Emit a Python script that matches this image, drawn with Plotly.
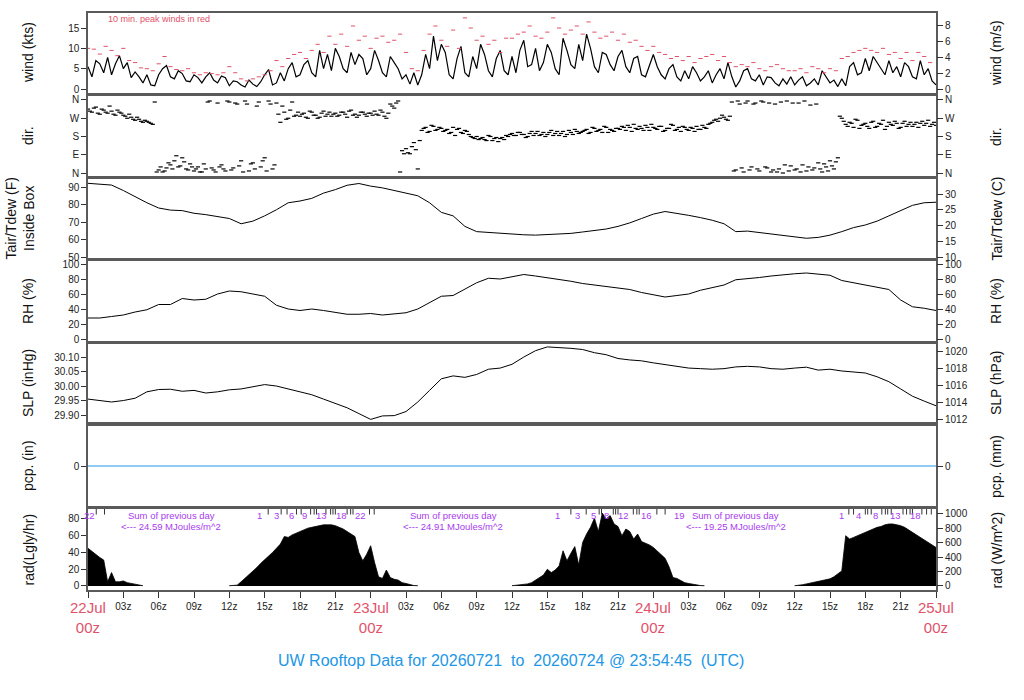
import pandas as pd
import plotly.graph_objects as go

t0 = pd.Timestamp("2026-07-22 00:00")

# 20 minute samples, 22Jul 00z .. 25Jul 00z
wind_kts = [
    5.5, 3.0, 7.0, 6.2, 4.0, 7.8, 3.5, 6.2, 8.2,
    5.0, 6.5, 2.8, 4.2, 3.0, 1.5, 3.5, 1.0, 0.8,
    3.5, 5.0, 5.8, 3.0, 2.5, 4.5, 3.8, 2.0, 1.8,
    3.5, 2.8, 1.5, 3.0, 4.0, 2.2, 1.5, 3.2, 2.8,
    0.8, 2.0, 1.8, 1.0, 0.5, 2.2, 1.2, 0.6, 1.8,
    3.5, 4.8, 1.0, 1.5, 4.0, 2.0, 5.0, 6.5, 3.0,
    3.5, 6.0, 7.0, 4.0, 3.0, 9.5, 5.0, 8.5, 4.5,
    10.0, 8.0, 5.0, 4.0, 9.0, 6.0, 8.5, 7.5, 3.5,
    5.0, 9.5, 7.0, 4.0, 3.0, 8.0, 6.5, 5.0, 2.5,
    3.5, 1.2, 4.0, 1.0, 3.5, 8.5, 5.0, 13.0, 7.0,
    11.0, 9.0, 3.5, 2.5, 7.5, 10.5, 4.0, 3.0, 8.0,
    5.0, 11.0, 8.5, 4.5, 3.0, 7.5, 9.5, 4.5, 3.5,
    8.0, 4.0, 9.5, 12.0, 5.5, 6.0, 10.0, 4.5, 6.5,
    11.0, 9.0, 5.0, 3.5, 12.5, 9.5, 6.0, 5.0, 11.0,
    7.0, 13.5, 10.0, 5.5, 4.0, 9.0, 8.5, 6.0, 4.5,
    8.0, 9.5, 5.5, 4.0, 7.5, 8.0, 3.5, 3.0, 6.0,
    8.5, 5.5, 3.5, 2.5, 5.0, 6.0, 3.0, 2.0, 4.5,
    2.5, 5.5, 4.0, 2.0, 3.0, 4.5, 1.5, 3.5, 5.0,
    2.5, 6.5, 3.0, 0.5, 2.0, 4.5, 5.0, 2.5, 2.0,
    3.5, 1.0, 3.0, 2.8, 1.5, 0.8, 2.5, 1.2, 3.0,
    1.0, 2.2, 3.0, 0.8, 1.5, 2.5, 1.0, 4.5, 3.0,
    1.5, 2.2, 0.6, 2.5, 0.8, 5.5, 6.5, 3.5, 4.0,
    7.5, 4.5, 8.0, 6.5, 5.0, 3.5, 7.0, 4.0, 5.5,
    3.0, 6.5, 5.5, 3.0, 2.5, 7.0, 3.5, 5.0, 2.0,
    1.0,
]

# 10 min peak winds, one every 30 min
wind_peak_kts = [
    10.0, 9.8, 8.6, 10.5, 9.5, 8.2, 10.0, 7.0, 6.5, 5.2, 5.0, 4.5,
    6.2, 8.0, 5.5, 4.8, 4.5, 5.0, 4.0, 3.5, 4.0, 3.8, 3.5, 4.0,
    5.5, 4.0, 2.5, 2.0, 2.5, 3.0, 3.5, 4.5, 7.0, 5.5, 7.5, 8.5,
    9.0, 7.5, 9.5, 11.0, 9.0, 13.0, 11.0, 13.5, 10.5, 15.5, 12.0, 13.0,
    10.0, 12.5, 13.0, 11.5, 12.0, 13.5, 9.0, 5.0, 4.5, 9.5, 13.5, 15.5,
    12.0, 10.5, 14.5, 10.0, 17.5, 15.0, 12.0, 13.0, 11.0, 12.0, 9.0, 12.5,
    12.5, 13.5, 14.0, 15.5, 13.0, 12.5, 14.0, 17.5, 15.0, 13.5, 14.5, 15.5,
    13.5, 16.5, 14.0, 12.5, 13.0, 14.0, 12.0, 13.5, 11.5, 12.0, 10.5, 9.5,
    10.5, 9.0, 8.5, 7.5, 8.0, 7.0, 8.0, 6.5, 7.5, 8.0, 8.5, 7.0,
    8.0, 6.5, 5.5, 6.0, 5.5, 6.5, 5.0, 4.5, 5.5, 6.0, 5.0, 4.5,
    4.5, 5.0, 4.0, 5.5, 5.0, 4.0, 5.0, 4.5, 7.5, 8.0, 9.0, 9.5,
    10.0, 9.5, 9.0, 10.0, 8.5, 9.0, 7.5, 9.0, 7.0, 9.0, 8.0, 6.5,
]

# wind direction (deg), 20 minute samples
wind_dir = [
    315, 300, 325, 290, 310, 295, 305, 285, 300,
    285, 270, 275, 260, 265, 250, 255, 245, 350,
    15, 5, 25, 40, 60, 30, 75, 20, 45,
    10, 30, 5, 20, 355, 15, 345, 40, 10,
    350, 25, 340, 60, 355, 10, 50, 330, 30,
    75, 355, 20, 345, 250, 300, 270, 350, 285,
    280, 295, 270, 300, 285, 275, 305, 290, 280,
    295, 285, 300, 275, 310, 290, 285, 300, 280,
    295, 305, 285, 300, 270, 340, 320, 355, 110,
    120, 95, 150, 20, 210, 225, 205, 230, 215,
    220, 210, 195, 225, 215, 200, 210, 190, 175,
    180, 170, 165, 185, 160, 175, 170, 165, 180,
    195, 185, 200, 190, 180, 205, 195, 185, 200,
    190, 210, 195, 185, 205, 190, 200, 215, 195,
    205, 215, 200, 220, 210, 200, 225, 215, 205,
    220, 230, 210, 225, 240, 215, 220, 235, 210,
    225, 215, 230, 210, 220, 235, 215, 205, 225,
    210, 220, 230, 215, 225, 240, 250, 265, 270,
    275, 260, 350, 15, 340, 5, 355, 30, 345,
    10, 350, 25, 5, 340, 20, 0, 355, 35,
    15, 345, 40, 10, 335, 25, 50, 5, 30,
    60, 20, 75, 270, 240, 250, 225, 260, 235,
    245, 220, 255, 230, 240, 215, 250, 235, 245,
    225, 255, 240, 230, 250, 245, 235, 260, 240,
    235,
]

# second set of direction readings, 10 min after the ones above
wind_dir_b = [
    305, 320, 295, 315, 300, 330, 290, 310, 295,
    280, 290, 265, 275, 255, 260, 250, 240, 5,
    30, 10, 50, 20, 85, 35, 55, 15, 30,
    20, 5, 45, 350, 25, 5, 30, 20, 355,
    15, 345, 35, 5, 340, 45, 20, 350, 60,
    10, 340, 40, 290, 330, 265, 310, 280, 300,
    290, 275, 305, 285, 270, 295, 280, 300, 290,
    280, 300, 290, 305, 285, 275, 300, 290, 295,
    285, 290, 310, 280, 295, 330, 345, 5, 95,
    100, 130, 115, 160, 220, 200, 235, 210, 225,
    205, 215, 200, 185, 220, 195, 205, 180, 170,
    165, 175, 160, 180, 170, 155, 175, 185, 190,
    185, 200, 190, 175, 195, 185, 205, 190, 180,
    200, 185, 205, 195, 180, 210, 190, 205, 200,
    210, 195, 225, 205, 215, 230, 200, 210, 220,
    215, 225, 235, 205, 220, 230, 210, 225, 240,
    220, 230, 205, 220, 240, 210, 225, 230, 215,
    225, 205, 215, 235, 220, 245, 260, 255, 285,
    265, 280, 10, 355, 25, 345, 15, 340, 20,
    355, 30, 345, 15, 5, 350, 40, 10, 345,
    20, 5, 355, 30, 15, 340, 20, 45, 10,
    35, 55, 280, 255, 230, 245, 265, 220, 240,
    230, 250, 225, 245, 260, 230, 240, 255, 220,
    245, 230, 250, 240, 225, 255, 245, 230, 250,
]

# hourly values
temp_f = [
    92.1, 91.8, 91.1, 88.0, 84.5, 81.0, 78.0, 76.8, 76.5, 75.0, 74.2, 73.0,
    72.0, 69.0, 70.5, 73.5, 77.0, 81.0, 82.0, 83.5, 86.5, 88.5, 91.0, 92.0,
    90.5, 89.5, 88.0, 86.5, 85.0, 81.0, 75.5, 73.5, 67.5, 64.5, 64.0, 63.8,
    63.2, 62.7, 62.5, 62.8, 63.0, 63.5, 64.3, 65.0, 66.0, 67.5, 69.5, 72.0,
    74.5, 76.0, 75.0, 73.8, 72.5, 71.0, 69.0, 64.5, 64.8, 64.0, 63.0, 62.0,
    61.3, 60.7, 61.2, 62.5, 64.5, 66.8, 68.3, 70.5, 73.5, 76.5, 79.5, 81.0,
    81.3,
]

rh_pct = [
    28, 28, 30, 32, 36, 39, 46, 46, 54, 52, 53, 60,
    64, 63, 60, 57, 45, 40, 38, 40, 38, 35, 33, 33,
    34, 32, 33, 35, 40, 48, 57, 58, 66, 75, 81, 80,
    83, 86, 84, 82, 79, 77, 74, 72, 71, 69, 66, 62,
    59, 56, 58, 60, 65, 69, 72, 79, 80, 82, 84, 86,
    87, 88, 86, 85, 78, 75, 73, 70, 66, 52, 43, 41,
    38,
]

slp_inhg = [
    29.955, 29.950, 29.945, 29.950, 29.958, 29.980, 29.988, 29.989, 29.982, 29.985, 29.976, 29.980,
    29.987, 29.990, 29.998, 30.005, 30.000, 29.990, 29.982, 29.970, 29.955, 29.940, 29.925, 29.905,
    29.885, 29.897, 29.898, 29.912, 29.945, 29.985, 30.025, 30.035, 30.030, 30.040, 30.058, 30.062,
    30.075, 30.100, 30.122, 30.135, 30.133, 30.130, 30.126, 30.115, 30.108, 30.095, 30.090, 30.087,
    30.080, 30.074, 30.068, 30.062, 30.060, 30.058, 30.060, 30.066, 30.068, 30.066, 30.060, 30.058,
    30.062, 30.065, 30.055, 30.058, 30.052, 30.048, 30.045, 30.032, 30.015, 29.990, 29.965, 29.948,
    29.932,
]

pcp_in = [0.0] * 73

# solar radiation (Lgly/hr), 20 minute samples, None = no data
N = None
rad_lgly = [
    45, 41, 38, 34, 31, 5, 16, 5, 5,
    6, 4, 3, 2, 1, 0.3, N, N, N,
    N, N, N, N, N, N, N, N, N,
    N, N, N, N, N, N, N, N, N,
    0.3, 0.5, 1, 5, 9, 14, 18, 22, 27,
    31, 35, 40, 45, 50, 59, 58, 61, 63,
    65, 67, 69, 70, 71, 72, 73, 73, 73,
    72, 70, 68, 65, 62, 59, 40, 30, 38,
    48, 28, 11, 9, 19, 10, 8, 7, 4,
    3, 1.5, 0.5, 0.3, N, N, N, N, N,
    N, N, N, N, N, N, N, N, N,
    N, N, N, N, N, N, N, N, N,
    0.3, 0.8, 1.5, 2, 2.5, 4, 7, 10, 13,
    20, 16, 19, 24, 42, 30, 39, 47, 25,
    52, 62, 70, 81, 65, 87, 80, 84, 74,
    71, 60, 68, 65, 56, 62, 53, 51, 49,
    46, 42, 38, 33, 23, 10, 9, 6, 4,
    3, 2, 1, 0.5, 0.3, N, N, N, N,
    N, N, N, N, N, N, N, N, N,
    N, N, N, N, N, N, N, N, N,
    0.3, 0.5, 1.5, 2.5, 3.5, 4.5, 5.5, 6.5, 7.5,
    8.5, 11, 15, 18, 60, 56, 58, 60, 62,
    64, 66, 68, 70, 71, 73, 74, 74, 73,
    72, 70, 67, 65, 62, 59, 56, 53, 49,
    46,
]

# cumulative MJ markers along top of radiation panel (hours from 22Jul 00z)
rad_lbl_hours = [0.1, 14.6, 16.0, 17.3, 18.4, 19.8, 21.5, 23.1,
                 39.9, 41.6, 42.9, 44.0, 45.5, 47.4, 50.2,
                 64.0, 65.4, 66.9, 68.6, 70.3]
rad_lbl_text = ["22", "1", "3", "6", "9", "13", "18", "22",
                "1", "3", "5", "8", "12", "16", "19",
                "1", "4", "8", "13", "18"]
rad_tick_hours = [0.7, 1.4,
                  15.3, 16.4, 16.9, 17.7, 18.1, 18.9, 19.2, 19.4, 20.2, 20.6, 20.8, 21.0,
                  22.0, 22.3, 22.5, 23.9, 24.3,
                  41.0, 42.3, 43.4, 43.6, 44.6, 44.8, 45.0, 46.3, 46.6, 46.8, 48.3, 49.0,
                  64.6, 65.0, 66.0, 66.2, 66.5, 67.4, 67.7, 67.9, 68.2,
                  69.2, 69.5, 69.8, 70.0, 70.8, 71.2, 71.6]
sum_hours = [7.05, 31.0, 55.0]
sum_mj = ["24.59", "24.91", "19.25"]

t20 = pd.date_range(t0, periods=len(wind_kts), freq="20min")
t20b = pd.date_range(t0 + pd.Timedelta(minutes=10), periods=len(wind_dir_b), freq="20min")
t30 = pd.date_range(t0, periods=len(wind_peak_kts), freq="30min")
t60 = pd.date_range(t0, periods=len(temp_f), freq="h")
t_end = t0 + pd.Timedelta(hours=72)


def hrs(h):
    return [t0 + pd.Timedelta(hours=v) for v in h]


RED = "#DF536B"
BLUE = "#2297E6"
PURPLE = "#A83BF0"
FONT = "Liberation Sans, Arial, sans-serif"
FRAME = "#5a5a5a"

fig = go.Figure()

fig.add_trace(go.Scatter(x=t20, y=wind_kts, mode="lines",
                         line=dict(color="black", width=1.2), xaxis="x", yaxis="y"))
fig.add_trace(go.Scatter(x=t30, y=wind_peak_kts, mode="markers",
                         marker=dict(symbol="line-ew", size=3, line=dict(color=RED, width=1)),
                         xaxis="x", yaxis="y"))
dir_marker = dict(symbol="line-ew", size=3, line=dict(color="black", width=1.2))
fig.add_trace(go.Scatter(x=t20, y=wind_dir, mode="markers", marker=dir_marker,
                         xaxis="x2", yaxis="y2"))
fig.add_trace(go.Scatter(x=t20b, y=wind_dir_b, mode="markers", marker=dir_marker,
                         xaxis="x2", yaxis="y2"))
fig.add_trace(go.Scatter(x=t60, y=temp_f, mode="lines", line=dict(color="black", width=1),
                         xaxis="x3", yaxis="y3"))
fig.add_trace(go.Scatter(x=t60, y=rh_pct, mode="lines", line=dict(color="black", width=1),
                         xaxis="x4", yaxis="y4"))
fig.add_trace(go.Scatter(x=t60, y=slp_inhg, mode="lines", line=dict(color="black", width=1),
                         xaxis="x5", yaxis="y5"))
fig.add_trace(go.Scatter(x=t60, y=pcp_in, mode="lines", line=dict(color=BLUE, width=1),
                         xaxis="x6", yaxis="y6"))

# radiation: one filled area per daylight stretch (no fill across the night gaps)
seg_x, seg_y = [], []
for tt, v in list(zip(t20, rad_lgly)) + [(None, None)]:
    if v is None:
        if seg_x:
            fig.add_trace(go.Scatter(x=seg_x, y=seg_y, mode="lines", fill="tozeroy",
                                     fillcolor="black", line=dict(color="black", width=0.8),
                                     xaxis="x7", yaxis="y7"))
        seg_x, seg_y = [], []
    else:
        seg_x.append(tt)
        seg_y.append(v)

fig.add_trace(go.Scatter(x=hrs(rad_tick_hours), y=[88.6] * len(rad_tick_hours), mode="markers",
                         marker=dict(symbol="line-ns", size=4, line=dict(color="#333", width=1)),
                         xaxis="x7", yaxis="y7"))

# pixel layout of the seven panels (top, bottom)
panels = [(13, 93), (96, 176), (179, 258), (261, 341), (344, 422), (426, 506), (509, 590)]
TOP, BOT = 13, 590
H = BOT - TOP

left = [
    dict(range=[-0.98, 18.7], tickvals=[0, 5, 10, 15]),
    dict(range=[-14.8, 379.7], tickvals=[0, 90, 180, 270, 360], ticktext=["N", "E", "S", "W", "N"]),
    dict(range=[49.43, 94.57], tickvals=[50, 60, 70, 80, 90]),
    dict(range=[-2.67, 104], tickvals=[0, 20, 40, 60, 80, 100]),
    dict(range=[29.876, 30.145], tickvals=[29.90, 29.95, 30.00, 30.05, 30.10], tickformat=".2f"),
    dict(range=[-1, 1], tickvals=[0]),
    dict(range=[-4.8, 91.9], tickvals=[0, 20, 40, 60, 80]),
]
right = [
    dict(range=[-0.98 * 0.5144, 18.7 * 0.5144], tickvals=[0, 2, 4, 6, 8]),
    dict(range=[-14.8, 379.7], tickvals=[0, 90, 180, 270, 360], ticktext=["N", "E", "S", "W", "N"]),
    dict(range=[(49.43 - 32) * 5 / 9, (94.57 - 32) * 5 / 9], tickvals=[10, 15, 20, 25, 30]),
    dict(range=[-2.67, 104], tickvals=[0, 20, 40, 60, 80, 100]),
    dict(range=[29.876 * 33.8639, 30.145 * 33.8639], tickvals=[1012, 1014, 1016, 1018, 1020]),
    dict(range=[-25.4, 25.4], tickvals=[0]),
    dict(range=[-4.8 * 11.63, 91.9 * 11.63], tickvals=[0, 200, 400, 600, 800, 1000]),
]

tick_times = pd.date_range(t0, t_end, freq="3h")
tick_text = ["" if (i * 3) % 24 == 0 else "%02dz" % ((i * 3) % 24) for i in range(len(tick_times))]

layout = dict(
    width=1024, height=700, showlegend=False,
    margin=dict(l=88, r=88, t=TOP, b=700 - BOT, autoexpand=False),
    paper_bgcolor="white", plot_bgcolor="white",
    font=dict(family=FONT, size=10, color="#222"),
)
tickfont = dict(family=FONT, size=10, color="#222")

for i in range(7):
    n = i + 1
    top, bot = panels[i]
    dom = [(BOT - bot) / H, (BOT - top) / H]
    xa = dict(domain=[0, 1], range=[t0, t_end], anchor="y%d" % n, showgrid=False,
              zeroline=False, showline=True, mirror=True, linecolor=FRAME, linewidth=1.5,
              showticklabels=False, ticks="", automargin=False)
    if n == 7:
        xa.update(showticklabels=True, ticks="outside", ticklen=6, tickcolor="#333",
                  tickvals=tick_times, ticktext=tick_text, tickfont=tickfont, tickangle=0)
    layout["xaxis" if n == 1 else "xaxis%d" % n] = xa
    ya = dict(domain=dom, anchor="x%d" % n, side="left", showgrid=False, zeroline=False,
              showline=True, mirror=True, linecolor=FRAME, linewidth=1.5, automargin=False,
              ticks="outside", ticklen=5, tickcolor="#333", tickfont=tickfont)
    ya.update(left[i])
    layout["yaxis" if n == 1 else "yaxis%d" % n] = ya
    yr = dict(overlaying="y" if n == 1 else "y%d" % n, anchor="x%d" % n, side="right",
              showgrid=False, zeroline=False, showline=False, automargin=False,
              ticks="outside", ticklen=6, tickcolor="#333", tickfont=tickfont)
    yr.update(right[i])
    layout["yaxis%d" % (n + 7)] = yr
    fig.add_trace(go.Scatter(x=[t0], y=[None], mode="lines", hoverinfo="skip",
                             xaxis="x" if n == 1 else "x%d" % n, yaxis="y%d" % (n + 7)))

fig.update_layout(**layout)


def py(y):
    return (BOT - y) / H


def px(x):
    return (x - 88) / 848


ann = []
left_titles = ["wind (kts)", "dir.", "Tair/Tdew (F)<br>Inside Box", "RH (%)", "SLP (inHg)",
               "pcp. (in)", "rad(Lgly/hr)"]
right_titles = ["wind (m/s)", "dir.", "Tair/Tdew (C)", "RH (%)", "SLP (hPa)",
                "pcp. (mm)", "rad (W/m^2)"]
for i in range(7):
    yc = py((panels[i][0] + panels[i][1]) / 2)
    lx = px(19) if i == 2 else px(28)
    ann.append(dict(text=left_titles[i], x=lx, y=yc, xref="paper", yref="paper",
                    textangle=-90, showarrow=False, xanchor="center", yanchor="middle",
                    font=dict(family=FONT, size=14, color="#111")))
    ann.append(dict(text=right_titles[i], x=px(996), y=yc, xref="paper", yref="paper",
                    textangle=-90, showarrow=False, xanchor="center", yanchor="middle",
                    font=dict(family=FONT, size=14, color="#111")))

for d in range(4):
    ann.append(dict(text="%dJul<br>00z" % (22 + d), x=t0 + pd.Timedelta(days=d), y=py(597),
                    xref="x7", yref="paper", showarrow=False, xanchor="center", yanchor="top",
                    font=dict(family=FONT, size=15, color=RED)))

ann.append(dict(text="10 min. peak winds in red", x=hrs([1.5])[0], y=17.3, xref="x", yref="y",
                showarrow=False, xanchor="left", yanchor="middle",
                font=dict(family=FONT, size=9, color=RED)))

for h, s in zip(rad_lbl_hours, rad_lbl_text):
    ann.append(dict(text=s, x=hrs([h])[0], y=84.6, xref="x7", yref="y7", showarrow=False,
                    xanchor="center", yanchor="middle", font=dict(family=FONT, size=9.5, color=PURPLE)))
for h, s in zip(sum_hours, sum_mj):
    ann.append(dict(text="Sum of previous day", x=hrs([h])[0], y=84.6, xref="x7", yref="y7",
                    showarrow=False, xanchor="center", yanchor="middle",
                    font=dict(family=FONT, size=9.5, color=PURPLE)))
    ann.append(dict(text="<--- %s MJoules/m^2" % s, x=hrs([h])[0], y=71.6, xref="x7", yref="y7",
                    showarrow=False, xanchor="center", yanchor="middle",
                    font=dict(family=FONT, size=9.5, color=PURPLE)))

ann.append(dict(text="UW Rooftop Data for 20260721\u00a0 to\u00a0 20260724 @ 23:54:45\u00a0 (UTC)",
                x=px(511), y=py(660), xref="paper", yref="paper", showarrow=False,
                xanchor="center", yanchor="middle", font=dict(family=FONT, size=16, color=BLUE)))

fig.update_layout(annotations=ann)
# page body has a default 8px margin; drop it so the figure sits at the window corner
fig.write_html("out.html", config={"displayModeBar": False},
               post_script="document.body.style.margin = '0';")
